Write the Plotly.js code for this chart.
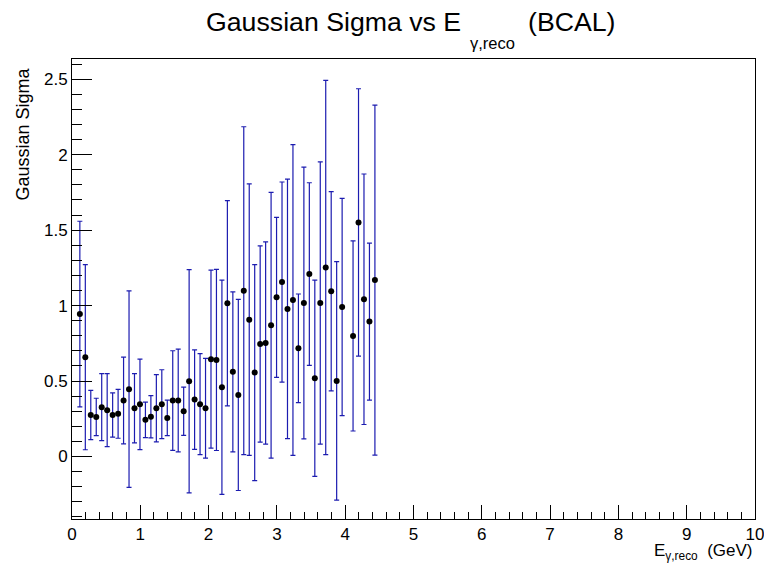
<!DOCTYPE html>
<html>
<head>
<meta charset="utf-8">
<script src="https://cdn.plot.ly/plotly-3.0.1.min.js"></script>
<style>html,body{margin:0;padding:0;background:#fff;}#chart{width:764px;height:566px;}</style>
</head>
<body>
<div id="chart"></div>
<script>
const energyGeV = [0.115,0.195,0.275,0.355,0.435,0.515,0.595,0.675,0.755,0.835,
  0.915,0.995,1.075,1.155,1.235,1.315,1.395,1.475,1.555,1.635,
  1.715,1.795,1.875,1.955,2.035,2.115,2.195,2.275,2.355,2.435,
  2.515,2.595,2.675,2.755,2.835,2.915,2.995,3.075,3.155,3.235,
  3.315,3.395,3.475,3.555,3.635,3.715,3.795,3.875,3.955,
  4.115,4.195,4.275,4.355,4.435];
const sigmaValues = [0.944,0.658,0.275,0.262,0.327,0.307,0.275,0.283,0.371,0.446,
  0.320,0.346,0.243,0.263,0.320,0.347,0.256,0.371,0.371,0.300,
  0.499,0.377,0.347,0.320,0.645,0.640,0.459,1.015,0.561,0.408,
  1.099,0.907,0.556,0.746,0.752,0.870,1.055,1.156,0.978,1.037,
  0.717,1.017,1.209,0.519,1.017,1.253,1.095,0.501,0.991,
  0.799,1.551,1.042,0.894,1.169];
const sigmaErrors = [0.615,0.613,0.163,0.124,0.222,0.242,0.147,0.162,0.287,0.651,
  0.229,0.300,0.118,0.140,0.223,0.228,0.118,0.330,0.340,0.160,
  0.740,0.330,0.335,0.330,0.590,0.600,0.710,0.680,0.530,0.633,
  1.086,0.900,0.716,0.650,0.670,0.880,0.530,0.663,0.860,1.030,
  0.360,0.900,0.605,0.650,0.935,1.240,0.660,0.790,0.720,
  0.630,0.886,0.830,0.520,1.160];
const xTickVals = [0,1,2,3,4,5,6,7,8,9,10];
const yTickVals = [0,0.5,1,1.5,2,2.5];
const yTickText = ['0','0.5','1','1.5','2','2.5'];
const titleMain = 'Gaussian Sigma vs E';
const titleSub = 'γ,reco';
const titleTail = '(BCAL)';

const FONT = 'Liberation Sans, Arial, Helvetica, sans-serif';
// helpers converting page pixels to paper coords of the plot area
const L = 72, R = 755, T = 59, B = 519.3;
const px = v => (v - L) / (R - L);
const py = v => (B - v) / (B - T);

const trace = {
  type: 'scatter', mode: 'markers',
  x: energyGeV, y: sigmaValues,
  marker: {color: '#000', size: 6},
  error_y: {type: 'data', array: sigmaErrors, symmetric: true,
            color: '#1c1cb0', thickness: 1.2, width: 2.5},
  showlegend: false, hoverinfo: 'x+y'
};

const layout = {
  width: 764, height: 566,
  paper_bgcolor: '#fff', plot_bgcolor: '#fff',
  margin: {l: 72, r: 9, t: 59, b: 47},
  font: {family: FONT, color: '#000'},
  xaxis: {range: [0, 10], tickvals: xTickVals, ticks: 'inside', ticklen: 14,
          tickcolor: '#000', tickwidth: 1, showgrid: false, zeroline: false,
          showline: true, linecolor: '#000', linewidth: 1, mirror: true,
          ticklabeloverflow: 'allow',
          tickfont: {family: FONT, size: 17, color: '#000'},
          minor: {dtick: 0.2, ticks: 'inside', ticklen: 7, tickcolor: '#000', showgrid: false}},
  yaxis: {range: [-0.414, 2.634], tickvals: yTickVals, ticktext: yTickText,
          ticks: 'inside', ticklen: 20, tickcolor: '#000', tickwidth: 1,
          showgrid: false, zeroline: false,
          showline: true, linecolor: '#000', linewidth: 1, mirror: true,
          tickfont: {family: FONT, size: 17, color: '#000'},
          minor: {dtick: 0.1, ticks: 'inside', ticklen: 10, tickcolor: '#000', showgrid: false}},
  annotations: [
    {text: titleMain, xref: 'paper', yref: 'paper', x: px(463), y: py(22),
     xanchor: 'right', yanchor: 'middle', showarrow: false,
     font: {family: FONT, size: 26.7, color: '#000'}},
    {text: titleSub, xref: 'paper', yref: 'paper', x: px(468), y: py(43),
     xanchor: 'left', yanchor: 'middle', showarrow: false,
     font: {family: FONT, size: 16.5, color: '#000'}},
    {text: titleTail, xref: 'paper', yref: 'paper', x: px(526), y: py(22),
     xanchor: 'left', yanchor: 'middle', showarrow: false,
     font: {family: FONT, size: 26.7, color: '#000'}},
    {text: 'Gaussian Sigma', textangle: -90, xref: 'paper', yref: 'paper',
     x: 0, y: 1, xanchor: 'center', yanchor: 'top', xshift: -50, yshift: -7,
     showarrow: false, font: {family: FONT, size: 18, color: '#000'}},
    {text: 'E<sub>γ,reco</sub>  (GeV)', xref: 'paper', yref: 'paper',
     x: 1, y: 0, xanchor: 'right', yanchor: 'top', yshift: -20,
     showarrow: false, font: {family: FONT, size: 17, color: '#000'}}
  ]
};

Plotly.newPlot('chart', [trace], layout, {staticPlot: true, displayModeBar: false});
</script>
</body>
</html>
